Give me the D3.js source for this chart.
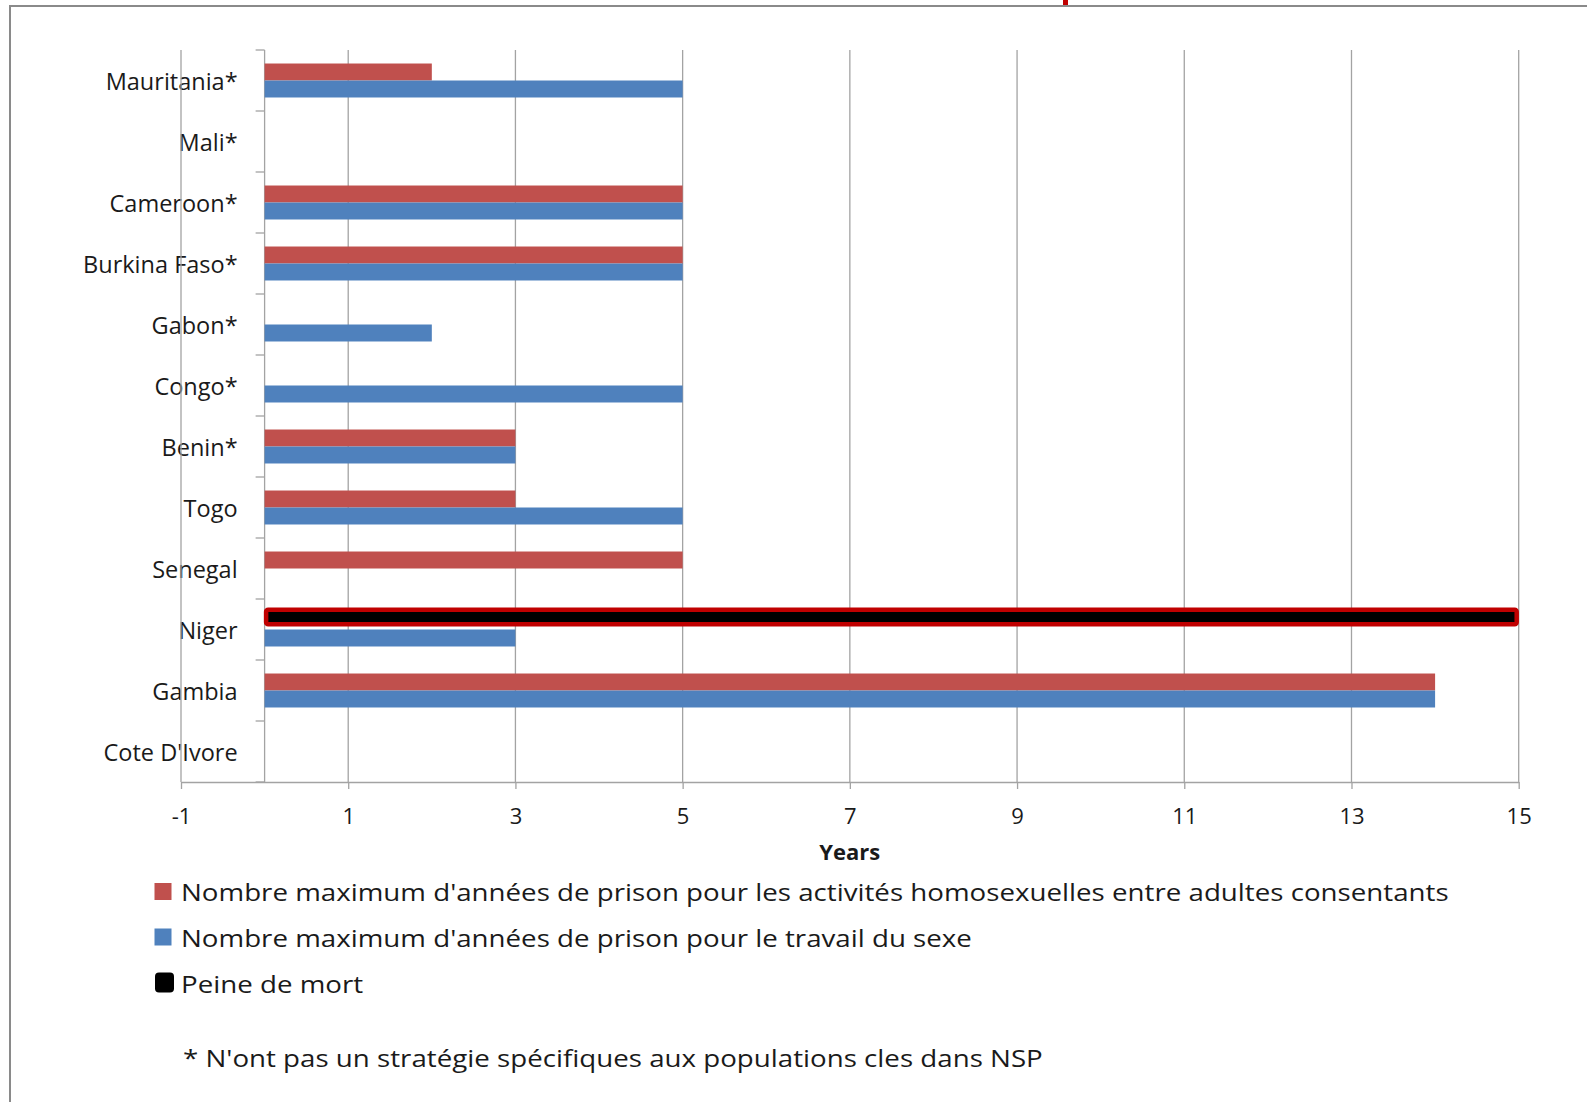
<!DOCTYPE html>
<html>
<head>
<meta charset="utf-8">
<script src="https://cdn.jsdelivr.net/npm/d3@7"></script>
<style>
  body { margin: 0; background: #fff; }
  text { font-family: "Open Sans", sans-serif; fill: #1a1a1a; }
</style>
</head>
<body>
<svg id="chart"></svg>
<script>
// data, top to bottom
const countries = ["Mauritania*", "Mali*", "Cameroon*", "Burkina Faso*", "Gabon*", "Congo*",
  "Benin*", "Togo", "Senegal", "Niger", "Gambia", "Cote D'Ivore"];
const homoYears = [2, null, 5, 5, null, null, 3, 3, 5, null, 14, null];
const sexWorkYears = [5, null, 5, 5, 2, 5, 3, 5, null, 3, 14, null];
const deathPenalty = [null, null, null, null, null, null, null, null, null, 15, null, null];
const xTicks = [-1, 1, 3, 5, 7, 9, 11, 13, 15];
const legendLabels = [
  "Nombre maximum d'années de prison pour les activités homosexuelles entre adultes consentants",
  "Nombre maximum d'années de prison pour le travail du sexe",
  "Peine de mort"
];
const footnote = "* N'ont pas un stratégie spécifiques aux populations cles dans NSP";
const axisTitle = "Years";

const W = 1587, H = 1102;
const red = "#c0504d", blue = "#4f81bd", gridCol = "#a3a3a3";
// the legend text in the source image is stretched sideways
const stretch = 1.205;

var svg = d3.select("#chart").attr("width", W).attr("height", H);

// outer frame (cut off on the right and bottom like the screenshot)
svg.append("rect")
  .attr("x", 10).attr("y", 6).attr("width", W + 20).attr("height", H + 20)
  .attr("fill", "none").attr("stroke", "#8a8a8a").attr("stroke-width", 2);
svg.append("rect")
  .attr("x", 1063).attr("y", 0).attr("width", 5).attr("height", 5)
  .attr("fill", "#c00000");

var plotTop = 50, plotBottom = 782;
var x = d3.scaleLinear().domain([-1, 15]).range([181, 1518.7]);
var y0 = d3.scaleBand().domain(countries).range([plotTop, plotBottom])
  .paddingInner(0.443).paddingOuter(0.2215);
var y1 = d3.scaleBand().domain(["homo", "sex"]).range([0, y0.bandwidth()]);

// category labels (under the grid lines, as in the original)
var yAxis = svg.append("g")
  .attr("transform", "translate(" + x(0) + ",0)")
  .call(d3.axisLeft(y0).tickSize(0).tickPadding(27).tickSizeOuter(0));
yAxis.select(".domain").remove();
yAxis.selectAll("text")
  .attr("dy", "0.4em")
  .style("font-size", "23.5px")
  .style("font-family", "'Open Sans', sans-serif")
  .attr("fill", "#1a1a1a");

// vertical grid lines
svg.selectAll(".grid")
  .data(xTicks)
  .enter()
  .append("line")
  .attr("class", "grid")
  .attr("x1", d => x(d)).attr("x2", d => x(d))
  .attr("y1", plotTop).attr("y2", plotBottom)
  .attr("stroke", gridCol).attr("stroke-width", 1.3);

// vertical value axis at 0 with ticks between categories
svg.append("line")
  .attr("x1", x(0)).attr("x2", x(0)).attr("y1", plotTop).attr("y2", plotBottom)
  .attr("stroke", gridCol).attr("stroke-width", 1.3);
var edges = countries.map(c => y0(c) - y0.step() * y0.paddingOuter()).concat([plotBottom]);
svg.selectAll(".ytick")
  .data(edges)
  .enter()
  .append("line")
  .attr("class", "ytick")
  .attr("x1", x(0) - 9).attr("x2", x(0))
  .attr("y1", d => d).attr("y2", d => d)
  .attr("stroke", gridCol).attr("stroke-width", 1.3);

// bars
var rows = countries.map((c, i) => ({ c: c, homo: homoYears[i], sex: sexWorkYears[i], death: deathPenalty[i] }));

svg.selectAll(".bar-homo")
  .data(rows.filter(d => d.homo != null))
  .enter()
  .append("rect")
  .attr("class", "bar-homo")
  .attr("x", x(0))
  .attr("y", d => y0(d.c) + y1("homo"))
  .attr("width", d => x(d.homo) - x(0))
  .attr("height", y1.bandwidth())
  .attr("fill", red);

svg.selectAll(".bar-sex")
  .data(rows.filter(d => d.sex != null))
  .enter()
  .append("rect")
  .attr("class", "bar-sex")
  .attr("x", x(0))
  .attr("y", d => y0(d.c) + y1("sex"))
  .attr("width", d => x(d.sex) - x(0))
  .attr("height", y1.bandwidth())
  .attr("fill", blue);

// death penalty bar: black with a thick dark red outline, sits a bit high
svg.selectAll(".bar-death")
  .data(rows.filter(d => d.death != null))
  .enter()
  .append("rect")
  .attr("class", "bar-death")
  .attr("x", x(0) + 1.5)
  .attr("y", d => y0(d.c) + y1("homo") - 5 + 2.25)
  .attr("width", d => x(d.death) - x(0) - 3.5)
  .attr("height", y1.bandwidth() + 2 - 4.5)
  .attr("rx", 2)
  .attr("fill", "#000")
  .attr("stroke", "#c00000")
  .attr("stroke-width", 4.5);

// bottom axis
var xAxis = svg.append("g")
  .attr("transform", "translate(0," + plotBottom + ")")
  .call(d3.axisBottom(x).tickValues(xTicks).tickFormat(d => String(d))
    .tickSize(7).tickSizeOuter(0).tickPadding(19));
xAxis.select(".domain").attr("stroke", gridCol).attr("stroke-width", 1.3);
xAxis.selectAll(".tick line").attr("stroke", gridCol).attr("stroke-width", 1.3);
xAxis.selectAll("text")
  .style("font-size", "22px")
  .style("font-family", "'Open Sans', sans-serif")
  .attr("fill", "#1a1a1a");

svg.append("text")
  .attr("x", (x(-1) + x(15)) / 2).attr("y", 860)
  .attr("text-anchor", "middle")
  .style("font-size", "22px").style("font-weight", "bold")
  .text(axisTitle);

// legend
var legendY = [901, 946.5, 992.5];
var legendFill = [red, blue, "#000"];
var lg = svg.selectAll(".legend")
  .data(legendLabels)
  .enter()
  .append("g")
  .attr("class", "legend");
lg.append("rect")
  .attr("x", (d, i) => i == 2 ? 155 : 154.5)
  .attr("y", (d, i) => legendY[i] - (i == 2 ? 20 : 18))
  .attr("width", (d, i) => i == 2 ? 19 : 17)
  .attr("height", (d, i) => i == 2 ? 20 : 17)
  .attr("rx", (d, i) => i == 2 ? 4 : 0)
  .attr("fill", (d, i) => legendFill[i]);
lg.append("text")
  .attr("transform", (d, i) => "translate(181," + legendY[i] + ") scale(" + stretch + ",1)")
  .style("font-size", "23px")
  .text(d => d);

svg.append("text")
  .attr("transform", "translate(183,1067) scale(" + stretch + ",1)")
  .style("font-size", "23px")
  .text(footnote);
</script>
</body>
</html>
